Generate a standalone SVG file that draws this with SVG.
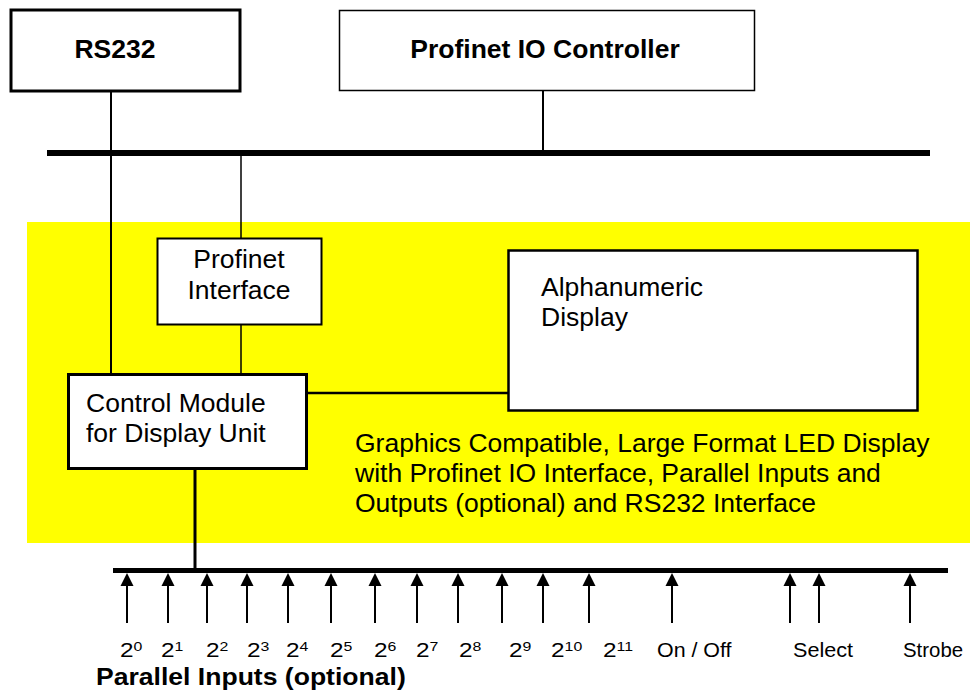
<svg xmlns="http://www.w3.org/2000/svg" width="970" height="695" viewBox="0 0 970 695">
<style>
.box{fill:#fff;stroke:#000}
.t{font-family:"Liberation Sans",Arial,sans-serif;font-size:26.5px;fill:#000}
.b{font-weight:bold}
.lbl{font-family:"Liberation Sans",Arial,sans-serif;font-size:20px;fill:#000}
.sup{font-size:13px}
.big{font-size:23px}
.ln{stroke:#000;fill:none}
</style>
<rect x="27" y="222" width="943" height="321" fill="#ffff00"/>
<g id="connectors">
<line class="ln" x1="47" y1="153" x2="930" y2="153" stroke-width="6"/>
<line class="ln" x1="113" y1="570.5" x2="948" y2="570.5" stroke-width="5"/>
<line class="ln" x1="111" y1="91" x2="111" y2="375" stroke-width="2"/>
<line class="ln" x1="543" y1="91" x2="543" y2="153" stroke-width="2"/>
<line class="ln" x1="241" y1="153" x2="241" y2="238" stroke-width="1.5"/>
<line class="ln" x1="241" y1="325" x2="241" y2="375" stroke-width="1.5"/>
<line class="ln" x1="307" y1="393" x2="509" y2="393" stroke-width="2.5"/>
<line class="ln" x1="195" y1="469" x2="195" y2="569" stroke-width="3"/>
<g stroke="#000" stroke-width="2" fill="none">
<line x1="127" y1="623" x2="127" y2="586"/>
<line x1="168" y1="623" x2="168" y2="586"/>
<line x1="207" y1="623" x2="207" y2="586"/>
<line x1="247" y1="623" x2="247" y2="586"/>
<line x1="288" y1="623" x2="288" y2="586"/>
<line x1="331" y1="623" x2="331" y2="586"/>
<line x1="375" y1="623" x2="375" y2="586"/>
<line x1="417" y1="623" x2="417" y2="586"/>
<line x1="458" y1="623" x2="458" y2="586"/>
<line x1="502" y1="623" x2="502" y2="586"/>
<line x1="543" y1="623" x2="543" y2="586"/>
<line x1="589" y1="623" x2="589" y2="586"/>
<line x1="672" y1="623" x2="672" y2="586"/>
<line x1="790" y1="623" x2="790" y2="586"/>
<line x1="819" y1="623" x2="819" y2="586"/>
<line x1="910" y1="623" x2="910" y2="586"/>
</g>
<g fill="#000">
<path d="M120.5,586 L127,573 L133.5,586 Z"/>
<path d="M161.5,586 L168,573 L174.5,586 Z"/>
<path d="M200.5,586 L207,573 L213.5,586 Z"/>
<path d="M240.5,586 L247,573 L253.5,586 Z"/>
<path d="M281.5,586 L288,573 L294.5,586 Z"/>
<path d="M324.5,586 L331,573 L337.5,586 Z"/>
<path d="M368.5,586 L375,573 L381.5,586 Z"/>
<path d="M410.5,586 L417,573 L423.5,586 Z"/>
<path d="M451.5,586 L458,573 L464.5,586 Z"/>
<path d="M495.5,586 L502,573 L508.5,586 Z"/>
<path d="M536.5,586 L543,573 L549.5,586 Z"/>
<path d="M582.5,586 L589,573 L595.5,586 Z"/>
<path d="M665.5,586 L672,573 L678.5,586 Z"/>
<path d="M783.5,586 L790,573 L796.5,586 Z"/>
<path d="M812.5,586 L819,573 L825.5,586 Z"/>
<path d="M903.5,586 L910,573 L916.5,586 Z"/>
</g>
</g>
<g id="rs232">
<rect class="box" x="11" y="10" width="229" height="81" stroke-width="3"/>
<text class="t b" x="115" y="58" text-anchor="middle">RS232</text>
</g>
<g id="profinet-io-controller">
<rect class="box" x="339.5" y="10.5" width="415" height="80" stroke-width="1.5"/>
<text class="t b" x="545" y="58" text-anchor="middle">Profinet IO Controller</text>
</g>
<g id="profinet-interface">
<rect class="box" x="157.5" y="238.5" width="164" height="86" stroke-width="2"/>
<text class="t" x="239" y="268" text-anchor="middle">Profinet</text>
<text class="t" x="239" y="299" text-anchor="middle">Interface</text>
</g>
<g id="control-module">
<rect class="box" x="68.5" y="374.5" width="238" height="94" stroke-width="3"/>
<text class="t" x="86" y="412">Control Module</text>
<text class="t" x="86" y="442">for Display Unit</text>
</g>
<g id="alphanumeric-display">
<rect class="box" x="508.5" y="250.5" width="409" height="160" stroke-width="2.5"/>
<text class="t" x="541" y="296">Alphanumeric</text>
<text class="t" x="541" y="326">Display</text>
</g>
<g id="description">
<text class="t" x="355" y="452">Graphics Compatible, Large Format LED Display</text>
<text class="t" x="355" y="482">with Profinet IO Interface, Parallel Inputs and</text>
<text class="t" x="355" y="512">Outputs (optional) and RS232 Interface</text>
</g>
<g id="input-labels">
<text class="lbl" transform="translate(120,657) scale(1.22,1)">2<tspan class="sup" dy="-6">0</tspan></text>
<text class="lbl" transform="translate(161,657) scale(1.22,1)">2<tspan class="sup" dy="-6">1</tspan></text>
<text class="lbl" transform="translate(206,657) scale(1.22,1)">2<tspan class="sup" dy="-6">2</tspan></text>
<text class="lbl" transform="translate(247,657) scale(1.22,1)">2<tspan class="sup" dy="-6">3</tspan></text>
<text class="lbl" transform="translate(286,657) scale(1.22,1)">2<tspan class="sup" dy="-6">4</tspan></text>
<text class="lbl" transform="translate(330,657) scale(1.22,1)">2<tspan class="sup" dy="-6">5</tspan></text>
<text class="lbl" transform="translate(374,657) scale(1.22,1)">2<tspan class="sup" dy="-6">6</tspan></text>
<text class="lbl" transform="translate(416,657) scale(1.22,1)">2<tspan class="sup" dy="-6">7</tspan></text>
<text class="lbl" transform="translate(459,657) scale(1.22,1)">2<tspan class="sup" dy="-6">8</tspan></text>
<text class="lbl" transform="translate(509,657) scale(1.22,1)">2<tspan class="sup" dy="-6">9</tspan></text>
<text class="lbl" transform="translate(551,657) scale(1.22,1)">2<tspan class="sup" dy="-6">10</tspan></text>
<text class="lbl" transform="translate(603,657) scale(1.22,1)">2<tspan class="sup" dy="-6">11</tspan></text>
<text class="lbl" transform="translate(657,657) scale(1.07,1)">On / Off</text>
<text class="lbl" transform="translate(793,657) scale(1.08,1)">Select</text>
<text class="lbl" transform="translate(903,657) scale(1.02,1)">Strobe</text>
<text class="lbl b big" transform="translate(96,685) scale(1.155,1)">Parallel Inputs (optional)</text>
</g>
</svg>
